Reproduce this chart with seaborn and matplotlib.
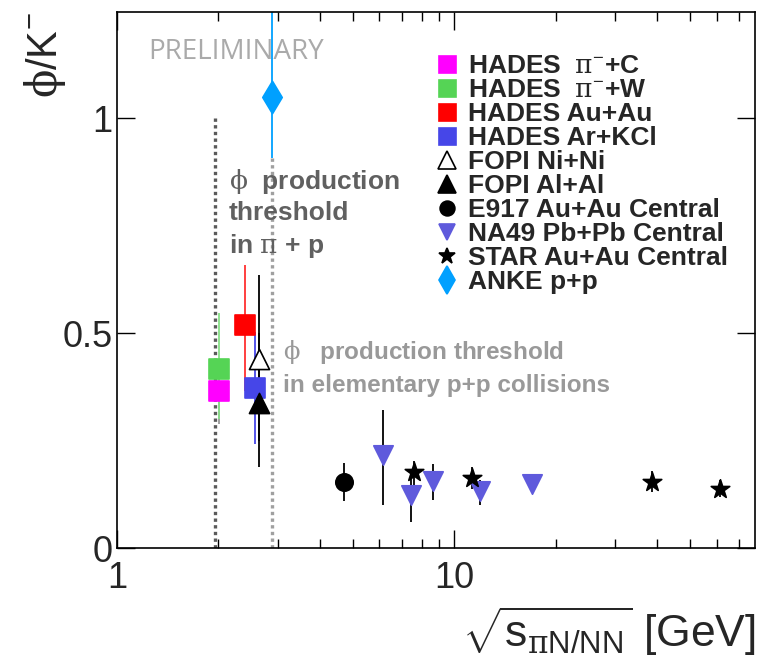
import matplotlib
matplotlib.use("Agg")
import matplotlib.pyplot as plt
from matplotlib.lines import Line2D
import seaborn as sns

# values (sqrt(s) in GeV, phi/K- ratio, error band lo/hi)
pic_x, pic_y, pic_lo, pic_hi = [2.01], [0.365], [0.29], [0.44]
piw_x, piw_y, piw_lo, piw_hi = [2.01], [0.416], [0.30], [0.547]
auau_x, auau_y, auau_lo, auau_hi = [2.40], [0.52], [0.365], [0.658]
arkcl_x, arkcl_y, arkcl_lo, arkcl_hi = [2.57], [0.372], [0.242], [0.502]
nini_x, nini_y, nini_lo, nini_hi = [2.64], [0.44], [0.25], [0.635]
alal_x, alal_y, alal_lo, alal_hi = [2.64], [0.337], [0.188], [0.50]
e917_x, e917_y, e917_lo, e917_hi = [4.70], [0.154], [0.109], [0.198]
na49_x = [6.13, 7.44, 8.65, 11.96, 17.0]
na49_y = [0.216, 0.124, 0.157, 0.134, 0.150]
na49_lo = [0.100, 0.06, 0.112, 0.101, 0.150]
na49_hi = [0.321, 0.165, 0.195, 0.159, 0.150]
star_x = [7.61, 11.32, 38.5, 61.3]
star_y = [0.177, 0.164, 0.155, 0.138]
star_lo = [0.146, 0.138, 0.130, 0.119]
star_hi = [0.202, 0.188, 0.179, 0.158]
anke_x, anke_y, anke_lo, anke_hi = [2.89], [1.049], [0.907], [1.40]

thr_pip = 1.96   # phi threshold in pi + p
thr_pp = 2.89    # phi threshold in p + p

labels = [r"HADES  $\mathsf{\pi}^{\mathrm{-}}$+C", r"HADES  $\mathsf{\pi}^{\mathrm{-}}$+W",
          "HADES Au+Au", "HADES Ar+KCl", "FOPI Ni+Ni", "FOPI Al+Al",
          "E917 Au+Au Central", "NA49 Pb+Pb Central", "STAR Au+Au Central", "ANKE p+p"]

sns.set_theme(style="ticks")
plt.rcParams["font.family"] = ["Liberation Sans", "DejaVu Sans"]
plt.rcParams["mathtext.fontset"] = "custom"
plt.rcParams["mathtext.rm"] = "Liberation Sans"
plt.rcParams["mathtext.it"] = "Liberation Sans:italic"
plt.rcParams["mathtext.bf"] = "Liberation Sans:bold"
plt.rcParams["mathtext.sf"] = "DejaVu Serif"

fig = plt.figure(figsize=(7.59, 6.67), dpi=100)
ax = fig.add_axes([0.154, 0.178, 0.841, 0.804])

# (x, y, lo, hi, marker, size, face, edge, errcolor)
series = [
    (pic_x, pic_y, pic_lo, pic_hi, "s", 14.4, "#ff00ff", "#ff00ff", "#999999"),
    (piw_x, piw_y, piw_lo, piw_hi, "s", 14.4, "#55d455", "#55d455", "#88e088"),
    (auau_x, auau_y, auau_lo, auau_hi, "s", 14.4, "#ff0000", "#ff0000", "#ff3030"),
    (arkcl_x, arkcl_y, arkcl_lo, arkcl_hi, "s", 14.4, "#4646e8", "#4646e8", "#4646e8"),
    (nini_x, nini_y, nini_lo, nini_hi, "^", 14.5, "white", "black", "black"),
    (alal_x, alal_y, alal_lo, alal_hi, "^", 14.5, "black", "black", "black"),
    (e917_x, e917_y, e917_lo, e917_hi, "o", 12.5, "black", "black", "black"),
    (na49_x, na49_y, na49_lo, na49_hi, "v", 14.0, "#5f5adc", "#5f5adc", "black"),
    (star_x, star_y, star_lo, star_hi, "*", 14.0, "black", "black", "black"),
    (anke_x, anke_y, anke_lo, anke_hi, "d", 16.5, "#00a0ff", "#00a0ff", "#00a0ff"),
]

for x, y, lo, hi, m, ms, fc, ec, erc in series:
    ax.vlines(x, lo, hi, color=erc, lw=1.3, zorder=2)

for x, y, lo, hi, m, ms, fc, ec, erc in series:
    sns.scatterplot(x=x, y=y, marker=m, s=ms ** 2, color=fc, edgecolor=ec,
                    linewidth=1.2, ax=ax, legend=False, zorder=3)

ax.vlines([thr_pip], 0, 1.0, colors="#5a5a5a", linestyles=(0, (1, 1)), lw=2.4, zorder=1)
ax.vlines([thr_pp], 0, 0.907, colors="#a0a0a0", linestyles=(0, (1, 1)), lw=2.4, zorder=1)

ax.set_xscale("log")
ax.set_xlim(1, 78)
ax.set_ylim(0, 1.247)
ax.set_xticks([1, 10])
ax.set_xticklabels(["1", "10"])
ax.set_xticks([2, 3, 4, 5, 6, 7, 8, 9, 20, 30, 40, 50, 60, 70], minor=True)
ax.set_xticklabels([], minor=True)
ax.set_yticks([0, 0.5, 1])
ax.set_yticklabels(["0", "0.5", "1"])
ax.yaxis.set_minor_locator(matplotlib.ticker.NullLocator())
ax.tick_params(which="both", direction="in", top=True, right=True, color="black")
ax.tick_params(which="major", length=13, width=1)
ax.tick_params(which="minor", length=6.5, width=1)
ax.tick_params(axis="x", which="major", labelsize=26, pad=9)
ax.tick_params(axis="y", which="major", labelsize=26, pad=3)
for sp in ax.spines.values():
    sp.set_linewidth(1.2)
    sp.set_color("black")

ax.set_xlabel(r"$\sqrt{\mathrm{s}_{\mathsf{\pi}\mathrm{N/NN}}}$ [GeV]", fontsize=32, loc="right", labelpad=6)
ax.set_ylabel(r"$\mathsf{\phi}$/K$^{\mathrm{-}}$", fontsize=30, loc="top")
ax.yaxis.set_label_coords(-0.077, 1.0)

ax.text(0.049, 0.925, "PRELIMINARY", transform=ax.transAxes, family="Open Sans",
        color="#aaaaaa", fontsize=20, va="center", ha="left")

ax.text(2.15, 0.779, "$\\mathsf{\\phi}$  production\nthreshold\nin $\\mathsf{\\pi}$ + p",
        fontsize=19, weight="bold", color="#606060", va="center", ha="left", linespacing=1.3)
ax.text(3.11, 0.42, "$\\mathsf{\\phi}$   production threshold\nin elementary p+p collisions",
        fontsize=17.5, weight="bold", color="#999999", va="center", ha="left", linespacing=1.45)

handles = []
for x, y, lo, hi, m, ms, fc, ec, erc in series:
    handles.append(Line2D([], [], ls="none", marker=m, markersize=ms * 0.85,
                          markerfacecolor=fc, markeredgecolor=ec, markeredgewidth=1.2))
ax.legend(handles, labels, loc="upper left", bbox_to_anchor=(0.497, 0.922), frameon=False,
          prop={"family": ["Liberation Sans", "DejaVu Sans"], "weight": "bold", "size": 19},
          labelspacing=0.0, handlelength=1.0, handletextpad=0.3, borderpad=0, borderaxespad=0)

fig.savefig("out.png", dpi=100)
